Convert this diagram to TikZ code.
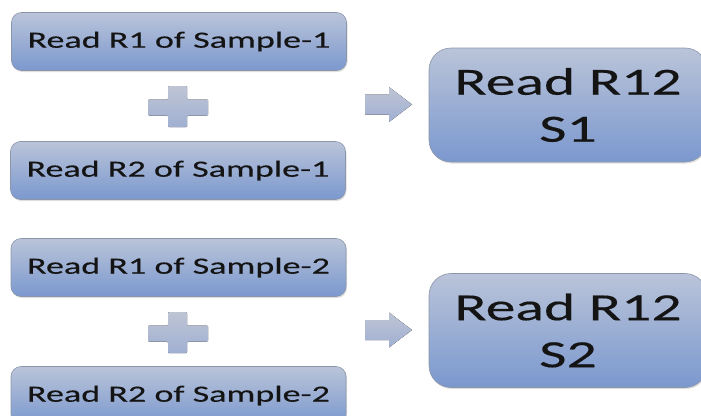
\documentclass[tikz,border=0pt]{standalone}
\usepackage{fontspec}
\setmainfont{Carlito}[FakeStretch=1.55,FakeBold=0.3]
\usetikzlibrary{shadows}
\definecolor{boxtop}{HTML}{BAC4D9}
\definecolor{boxbot}{HTML}{7B98CE}
\definecolor{boxline}{HTML}{8C96AA}
\definecolor{symtop}{HTML}{BEC4D4}
\definecolor{symbot}{HTML}{A0B0D2}
\definecolor{txt}{HTML}{141414}
\tikzset{
  smallbox/.style={draw=boxline, line width=0.6pt, rounded corners=10pt,
    top color=boxtop, bottom color=boxbot, text=txt,
    minimum width=335pt, minimum height=58pt, inner sep=0pt,
    font=\fontsize{23.3}{28}\selectfont,
    drop shadow={shadow xshift=1pt, shadow yshift=-1.5pt, opacity=0.25}},
  bigbox/.style={draw=boxline, line width=0.6pt, rounded corners=22pt,
    top color=boxtop, bottom color=boxbot, text=txt,
    minimum width=278pt, minimum height=114pt, inner sep=0pt,
    align=center, font=\fontsize{38.5}{47}\selectfont,
    drop shadow={shadow xshift=1pt, shadow yshift=-1.5pt, opacity=0.25}},
  sym/.style={top color=symtop, bottom color=symbot, draw=none}
}
\begin{document}
\begin{tikzpicture}[x=1pt,y=-1pt]
\useasboundingbox (0,0) rectangle (701,415);
\clip (0,0) rectangle (701,415);
\node[smallbox] (a1) at (179,41.5) {Read R1 of Sample-1};
\node[smallbox] (a2) at (178,170.5) {Read R2 of Sample-1};
\node[bigbox] (s1) at (568,105) {Read R12\\S1};
\node[smallbox] (b1) at (178.5,267.5) {Read R1 of Sample-2};
\node[smallbox] (b2) at (178.5,395.5) {Read R2 of Sample-2};
\node[bigbox] (s2) at (568,330.5) {Read R12\\S2};
% plus signs
\foreach \cy in {106.5,332.5}{
  \fill[sym, rounded corners=1pt]
    (168,\cy-20.5) -- (187,\cy-20.5) -- (187,\cy-7) -- (208,\cy-7) -- (208,\cy+9)
    -- (187,\cy+9) -- (187,\cy+20.5) -- (168,\cy+20.5) -- (168,\cy+9) -- (148,\cy+9)
    -- (148,\cy-7) -- (168,\cy-7) -- cycle;
}
% arrows
\foreach \cy in {104.5,330}{
  \fill[sym]
    (365,\cy-10) -- (389,\cy-10) -- (389,\cy-17.5) -- (412,\cy) -- (389,\cy+17.5)
    -- (389,\cy+10) -- (365,\cy+10) -- cycle;
}
\end{tikzpicture}
\end{document}
